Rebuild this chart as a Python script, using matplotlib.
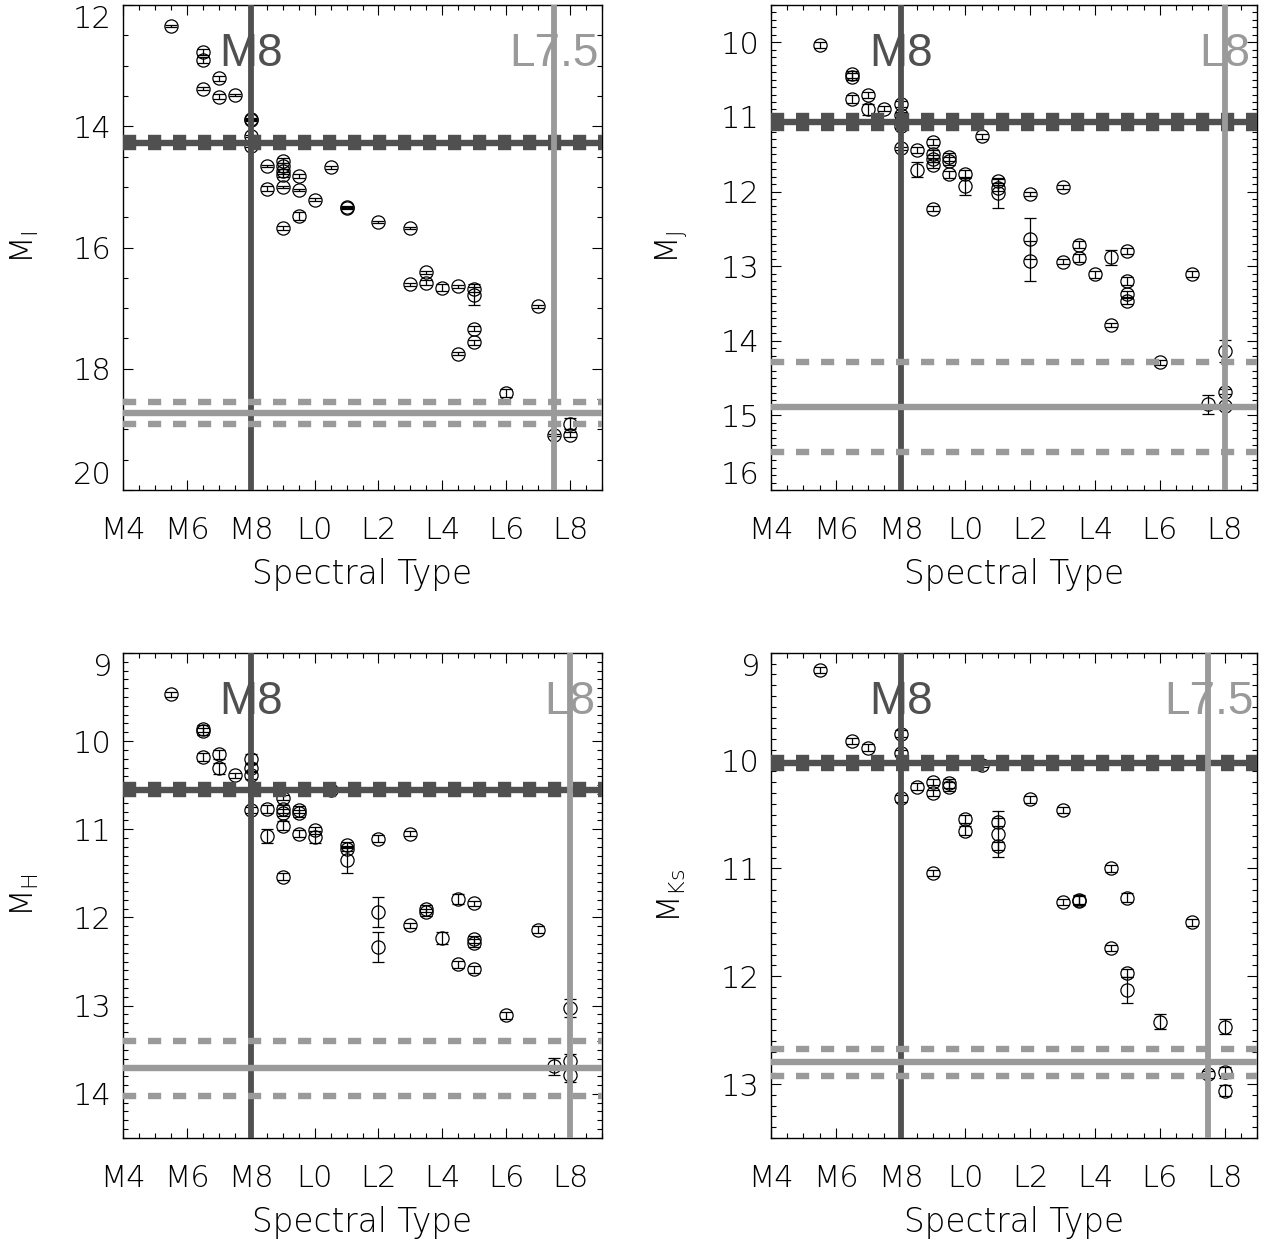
"""
Absolute magnitude vs spectral type in four bands (I, J, H, Ks).
Spectral types coded as M0-M9 -> 0-9, L0-L9 -> 10-19.
"""

import matplotlib
matplotlib.use("Agg")
import matplotlib.pyplot as plt
import matplotlib.transforms as mtransforms
from matplotlib.ticker import MultipleLocator

plt.rcParams['font.family'] = ['DejaVu Sans']
plt.rcParams['font.weight'] = 'light'
plt.rcParams['axes.labelweight'] = 'light'
plt.rcParams['mathtext.default'] = 'regular'
plt.rcParams['lines.scale_dashes'] = False

# ---- data -----------------------------------------------------------------
tick_pos = [4, 6, 8, 10, 12, 14, 16, 18]
tick_lab = ['M4', 'M6', 'M8', 'L0', 'L2', 'L4', 'L6', 'L8']

# I band
spt_i = [5.5, 6.5, 6.5, 6.5, 7, 7, 7.5, 8, 8, 8, 8, 8.5, 8.5,
         9, 9, 9, 9, 9, 9, 9.5, 9.5, 9.5, 10, 10.5, 11, 11, 12, 13,
         13, 13.5, 13.5, 14, 14.5, 14.5, 15, 15, 15, 15, 16, 17, 17.5, 18, 18]
mi = [12.35, 12.78, 12.90, 13.38, 13.21, 13.51, 13.48, 13.88, 13.90, 14.16, 14.33,
      14.66, 15.03, 14.57, 14.66, 14.74, 14.80, 15.00, 15.68, 14.82, 15.05, 15.48,
      15.21, 14.68, 15.33, 15.35, 15.58, 15.68,
      16.61, 16.41, 16.58, 16.66, 16.64, 17.75, 16.69, 16.78, 17.34, 17.56,
      18.40, 16.97, 19.09, 18.91, 19.09]
mi_err = [0.02, 0.05, 0.05, 0.03, 0.04, 0.04, 0.02, 0.02, 0.02, 0.02, 0.02,
          0.02, 0.04, 0.04, 0.05, 0.04, 0.04, 0.02, 0.03, 0.04, 0.02, 0.07,
          0.02, 0.02, 0.02, 0.02, 0.02, 0.02,
          0.02, 0.02, 0.04, 0.06, 0.02, 0.02, 0.04, 0.17, 0.04, 0.04,
          0.06, 0.02, 0.02, 0.09, 0.04]

# J band
spt_j = [5.5, 6.5, 6.5, 6.5, 7, 7, 7.5, 8, 8, 8, 8, 8.5, 8.5,
         9, 9, 9, 9, 9, 9.5, 9.5, 9.5, 10, 10, 10.5, 11, 11, 11,
         12, 12, 12, 13, 13, 13.5, 13.5, 14, 14.5, 14.5,
         15, 15, 15, 15, 16, 17, 17.5, 18, 18, 18]
mj = [10.04, 10.43, 10.46, 10.76, 10.71, 10.90, 10.89, 10.83, 10.97, 11.12, 11.42,
      11.44, 11.71, 11.33, 11.50, 11.56, 11.65, 12.23, 11.54, 11.59, 11.77,
      11.76, 11.93, 11.26, 11.86, 11.95, 12.02,
      12.03, 12.63, 12.93, 11.94, 12.94, 12.71, 12.89, 13.11, 12.88, 13.79,
      12.80, 13.20, 13.37, 13.47, 14.29, 13.10, 14.85, 14.14, 14.68, 14.88]
mj_err = [0.04, 0.05, 0.05, 0.06, 0.04, 0.07, 0.03, 0.04, 0.04, 0.03, 0.02,
          0.04, 0.10, 0.04, 0.05, 0.05, 0.04, 0.03, 0.05, 0.05, 0.05,
          0.05, 0.11, 0.03, 0.03, 0.04, 0.20,
          0.03, 0.28, 0.27, 0.03, 0.03, 0.05, 0.05, 0.05, 0.10, 0.03,
          0.04, 0.05, 0.04, 0.04, 0.03, 0.04, 0.13, 0.15, 0.03, 0.03]

# H band
spt_h = [5.5, 6.5, 6.5, 6.5, 7, 7, 7.5, 8, 8, 8, 8, 8.5, 8.5,
         9, 9, 9, 9, 9, 9.5, 9.5, 9.5, 10, 10, 10.5, 11, 11, 11,
         12, 12, 12, 13, 13, 13.5, 13.5, 14, 14.5, 14.5,
         15, 15, 15, 15, 16, 17, 17.5, 18, 18, 18]
mh = [9.47, 9.86, 9.89, 10.18, 10.15, 10.31, 10.39, 10.20, 10.30, 10.39, 10.78,
      10.77, 11.08, 10.64, 10.77, 10.81, 10.96, 11.54, 10.78, 10.82, 11.05,
      11.01, 11.09, 10.55, 11.18, 11.22, 11.35,
      11.11, 11.94, 12.33, 11.05, 12.09, 11.90, 11.94, 12.23, 11.79, 12.53,
      11.84, 12.25, 12.29, 12.59, 13.11, 12.14, 13.69, 13.03, 13.63, 13.79]
mh_err = [0.03, 0.04, 0.04, 0.05, 0.05, 0.06, 0.03, 0.05, 0.04, 0.04, 0.03,
          0.04, 0.08, 0.03, 0.04, 0.04, 0.05, 0.04, 0.04, 0.04, 0.04,
          0.04, 0.07, 0.02, 0.03, 0.03, 0.15,
          0.04, 0.17, 0.17, 0.03, 0.03, 0.04, 0.04, 0.07, 0.06, 0.04,
          0.03, 0.04, 0.04, 0.04, 0.04, 0.04, 0.10, 0.10, 0.08, 0.08]

# Ks band
spt_k = [5.5, 6.5, 7, 8, 8, 8, 8.5, 9, 9, 9, 9.5, 9.5, 10, 10, 10.5,
         11, 11, 11, 12, 13, 13, 13.5, 13.5, 14.5, 14.5,
         15, 15, 15, 16, 17, 17.5, 18, 18, 18]
mk = [9.16, 9.82, 9.88, 9.75, 9.93, 10.35, 10.24, 10.20, 10.30, 11.04,
      10.21, 10.24, 10.54, 10.65, 10.04,
      10.57, 10.68, 10.79, 10.36, 10.46, 11.31, 11.29, 11.30, 11.00, 11.74,
      11.27, 11.97, 12.13, 12.42, 11.50, 12.91, 12.47, 12.89, 13.06]
mk_err = [0.03, 0.03, 0.03, 0.03, 0.03, 0.03, 0.03, 0.03, 0.03, 0.03,
          0.04, 0.04, 0.04, 0.04, 0.02,
          0.04, 0.21, 0.04, 0.03, 0.03, 0.03, 0.04, 0.04, 0.03, 0.03,
          0.04, 0.04, 0.12, 0.07, 0.03, 0.03, 0.07, 0.05, 0.05]

# reference lines: (mean, scatter) for M8 and late-L types
m8_line = [(14.27, 0.075), (11.07, 0.08), (10.55, 0.05), (10.02, 0.045)]
late_line = [(18.73, 0.18), (14.89, 0.60), (13.71, 0.31), (12.80, 0.125)]
late_spt = [17.5, 18, 18, 17.5]
late_name = ['L7.5', 'L8', 'L8', 'L7.5']

# y axis: labelled ticks, minor step, limits (faint, bright)
panels = [
    (spt_i, mi, mi_err, 'M$_I$', [12, 14, 16, 18, 20], 0.5, (12, 20)),
    (spt_j, mj, mj_err, 'M$_J$', [10, 11, 12, 13, 14, 15, 16], 0.1, (9.5, 16)),
    (spt_h, mh, mh_err, 'M$_H$', [9, 10, 11, 12, 13, 14], 0.1, (9, 14.5)),
    (spt_k, mk, mk_err, 'M$_{Ks}$', [9, 10, 11, 12, 13], 0.1, (9, 13.5)),
]

rects = [
    [0.0973, 0.6064, 0.379, 0.3896],
    [0.6100, 0.6064, 0.3845, 0.3896],
    [0.0973, 0.0860, 0.379, 0.3896],
    [0.6100, 0.0860, 0.3845, 0.3896],
]

dark = '#505050'
light = '#9a9a9a'
dash = (0, (9.5, 8.5))
hw = 4.6   # horizontal line width
vw = 4.2   # vertical line width

fig = plt.figure(figsize=(12.64, 12.45), dpi=100)

for k, (spt, mag, err, ylab, yt, minor, ylim) in enumerate(panels):
    ax = fig.add_axes(rects[k])

    ax.errorbar(spt, mag, yerr=err, fmt='o', ms=9.5, mfc='none', mec='k',
                mew=0.9, ecolor='k', elinewidth=0.9, capsize=4.2,
                capthick=0.9, zorder=2)

    mu, sd = m8_line[k]
    ax.axhline(mu, color=dark, lw=hw, zorder=3)
    ax.axhline(mu - sd, color=dark, lw=hw, ls=dash, zorder=3)
    ax.axhline(mu + sd, color=dark, lw=hw, ls=dash, zorder=3)
    ax.axvline(8, color=dark, lw=vw, zorder=3)

    mu, sd = late_line[k]
    ax.axhline(mu, color=light, lw=hw, zorder=3)
    ax.axhline(mu - sd, color=light, lw=hw, ls=dash, zorder=3)
    ax.axhline(mu + sd, color=light, lw=hw, ls=dash, zorder=3)
    ax.axvline(late_spt[k], color=light, lw=vw, zorder=3)

    trans = mtransforms.blended_transform_factory(ax.transData, ax.transAxes)
    ax.text(8, 0.875, 'M8', transform=trans, ha='center', va='baseline',
            fontsize=33, color=dark, family='Liberation Sans',
            fontweight='normal', zorder=4)
    ax.text(late_spt[k], 0.875, late_name[k], transform=trans, ha='center',
            va='baseline', fontsize=33, color=light, family='Liberation Sans',
            fontweight='normal', zorder=4)

    ax.set_xlim(4, 19)
    ax.set_xticks(tick_pos)
    ax.set_xticklabels(tick_lab)
    ax.xaxis.set_minor_locator(MultipleLocator(0.5))
    ax.set_yticks(yt)
    ax.set_yticklabels([str(v) for v in yt])
    ax.yaxis.set_minor_locator(MultipleLocator(minor))
    ax.set_ylim(ylim[1], ylim[0])
    ax.tick_params(which='both', direction='in', top=True, right=True,
                   width=0.8, labelsize=22)
    ax.tick_params(which='major', length=7)
    ax.tick_params(which='minor', length=3.6)
    ax.tick_params(axis='x', which='major', pad=19)
    ax.tick_params(axis='y', which='major', pad=8)
    # labels sitting on the frame edge are nudged inside, as in the original
    for v, lab in zip(yt, ax.get_yticklabels()):
        if v == ylim[0]:
            lab.set_va('top')
        elif v == ylim[1]:
            lab.set_va('bottom')
    for sp in ax.spines.values():
        sp.set_linewidth(1.0)

    ax.set_xlabel('Spectral Type', fontsize=23.5)
    ax.xaxis.set_label_coords(0.5, -0.175)
    ax.xaxis.label.set_va('center')
    ax.set_ylabel(ylab, fontsize=23)
    ax.yaxis.set_label_coords(-0.205, 0.5)
    ax.yaxis.label.set_va('center')

fig.savefig('out.png', dpi=100)
